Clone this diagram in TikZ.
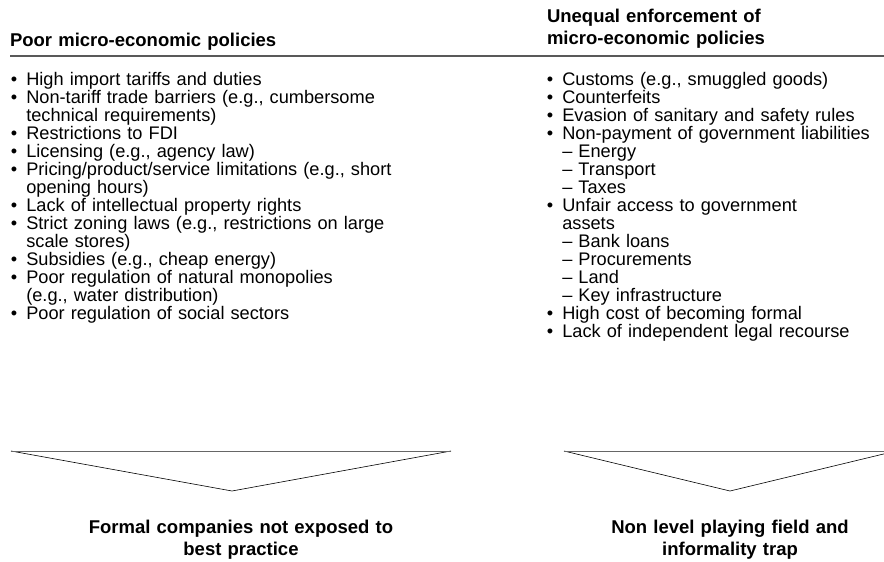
\documentclass[tikz,border=0pt]{standalone}
\usepackage{fontspec}
\setmainfont{Liberation Sans}

\newcommand{\itm}{\makebox[15.5pt][l]{\textbullet}} % bullet with hanging indent
\newcommand{\hang}{\hspace*{15.5pt}}                 % continuation line

\begin{document}
\begin{tikzpicture}[
            x = 1pt, y = -1pt, % pixel units, y runs downwards
            semithick % line style
        ]

        \tikzstyle{every node}=[inner sep = 0pt, outer sep = 0pt]
        \tikzstyle{head}=[
            anchor = base west,
            align = left,
            text width = 330pt,
            font = \fontsize{18.5}{21}\selectfont\bfseries
        ]
        \tikzstyle{list}=[
            anchor = base west,
            align = left,
            font = \fontsize{18.2}{18}\selectfont
        ]
        \tikzstyle{result}=[
            anchor = base,
            align = center,
            text width = 340pt,
            font = \fontsize{18.5}{22}\selectfont\bfseries
        ]
        \tikzstyle{rule}=[draw = black!65, line width = 1.3pt]
        \tikzstyle{funnel}=[draw = black, line width = 0.6pt]
        \tikzstyle{funneltop}=[draw = black!60, line width = 1pt]

        \useasboundingbox (0,0) rectangle (884,562);
        \clip (0,0) rectangle (884,562);

        % column headers
        \node[head] (poorhead) at (10,46.5) {Poor micro-economic policies};
        \node[head] (unequalhead) at (547,23) {Unequal enforcement of\\micro-economic policies};
        \draw[rule] (10,56) -- (884,56);

        % left column
        \node[list, text width = 430pt] (poorlist) at (10.8,85.5) {%
            \itm High import tariffs and duties\\
            \itm Non-tariff trade barriers (e.g., cumbersome\\
            \hang technical requirements)\\
            \itm Restrictions to FDI\\
            \itm Licensing (e.g., agency law)\\
            \itm Pricing/product/service limitations (e.g., short\\
            \hang opening hours)\\
            \itm Lack of intellectual property rights\\
            \itm Strict zoning laws (e.g., restrictions on large\\
            \hang scale stores)\\
            \itm Subsidies (e.g., cheap energy)\\
            \itm Poor regulation of natural monopolies\\
            \hang (e.g., water distribution)\\
            \itm Poor regulation of social sectors};

        % right column
        \node[list, text width = 336pt] (unequallist) at (546.8,85.5) {%
            \itm Customs (e.g., smuggled goods)\\
            \itm Counterfeits\\
            \itm Evasion of sanitary and safety rules\\
            \itm Non-payment of government liabilities\\
            \hang -- Energy\\
            \hang -- Transport\\
            \hang -- Taxes\\
            \itm Unfair access to government\\
            \hang assets\\
            \hang -- Bank loans\\
            \hang -- Procurements\\
            \hang -- Land\\
            \hang -- Key infrastructure\\
            \itm High cost of becoming formal\\
            \itm Lack of independent legal recourse};

        % funnels
        \draw[funnel] (11,451) -- (232,491) -- (451,451);
        \draw[funneltop] (11,451) -- (451,451);
        \draw[funnel] (564,451) -- (730,491) -- (896,451);
        \draw[funneltop] (564,451) -- (896,451);

        % outcomes
        \node[result] (formal) at (241,533) {Formal companies not exposed to\\best practice};
        \node[result] (level) at (730,533) {Non level playing field and\\informality trap};

  \end{tikzpicture}
\end{document}
